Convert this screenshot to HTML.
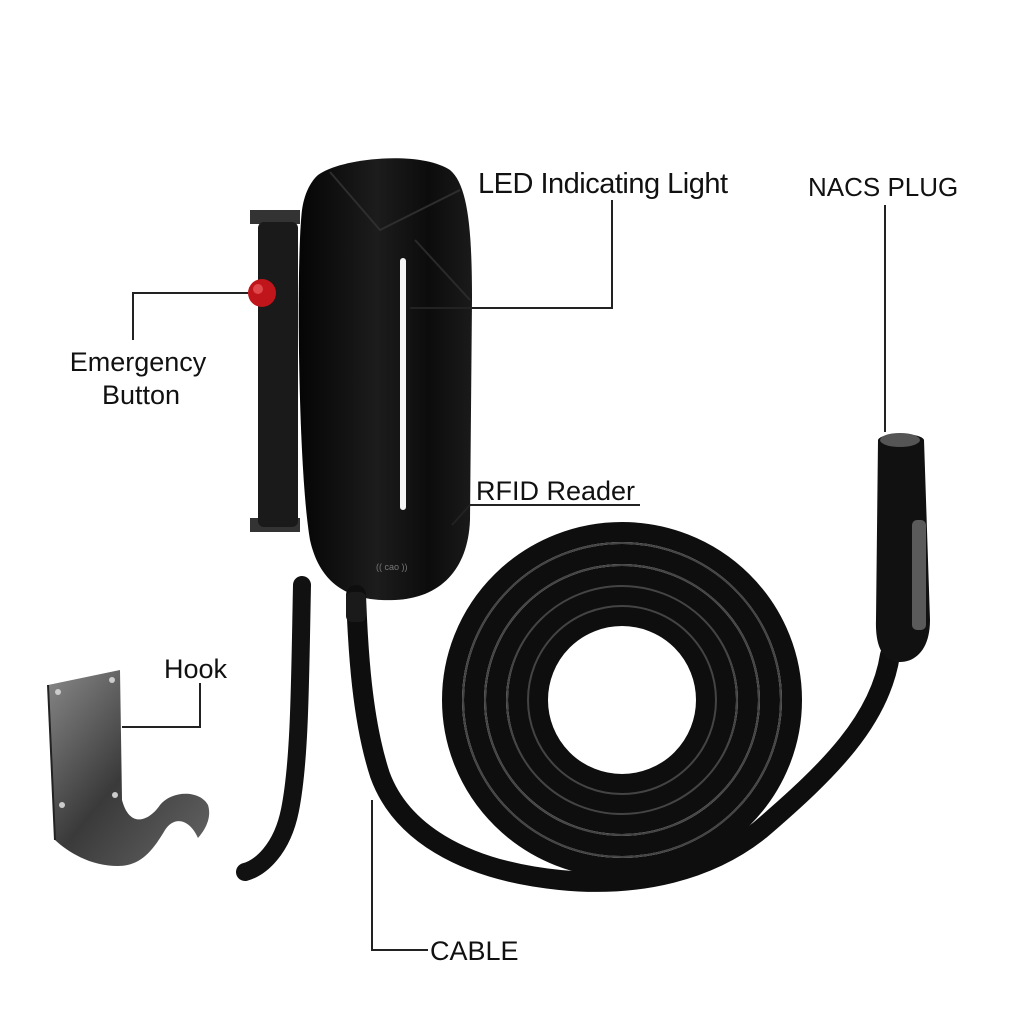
<!DOCTYPE html>
<html><head><meta charset="utf-8"><style>
html,body{margin:0;padding:0;background:#fff;}
svg{display:block}
text{font-family:"Liberation Sans","DejaVu Sans",sans-serif;fill:#111;}
</style></head><body>
<svg width="1024" height="1024" viewBox="0 0 1024 1024" xmlns="http://www.w3.org/2000/svg">
<defs>
<linearGradient id="body" x1="0" y1="0" x2="1" y2="0">
<stop offset="0" stop-color="#050505"/><stop offset="0.45" stop-color="#1c1c1c"/><stop offset="0.75" stop-color="#0c0c0c"/><stop offset="1" stop-color="#1a1a1a"/>
</linearGradient>
<linearGradient id="hook" x1="0" y1="0" x2="1" y2="1">
<stop offset="0" stop-color="#888"/><stop offset="0.5" stop-color="#3a3a3a"/><stop offset="1" stop-color="#666"/>
</linearGradient>
</defs>
<rect width="1024" height="1024" fill="#fff"/>

<path d="M302 585 C300 680 300 760 290 810 C282 850 260 868 245 872" stroke="#111" stroke-width="18" fill="none" stroke-linecap="round"/>

<rect x="250" y="210" width="50" height="14" fill="#333"/>
<rect x="250" y="518" width="50" height="14" fill="#333"/>
<rect x="258" y="222" width="40" height="305" rx="6" fill="#1a1a1a"/>

<path d="M318 175 C340 158 420 150 450 170 C468 185 472 230 472 300 L470 520 C468 570 440 598 395 600 C350 602 320 585 310 540 C298 470 296 260 302 210 C304 195 310 182 318 175 Z" fill="url(#body)"/>
<path d="M330 172 L380 230 L460 190" stroke="#2e2e2e" stroke-width="2" fill="none"/>
<path d="M415 240 L470 300" stroke="#2a2a2a" stroke-width="2" fill="none"/>
<rect x="400" y="258" width="6" height="252" rx="3" fill="#f4f4f4"/>
<text x="376" y="570" font-size="9" style="fill:#777">((  cao  ))</text>
<circle cx="262" cy="293" r="14" fill="#c0151a"/>
<circle cx="258" cy="289" r="5" fill="#e0474a"/>

<g fill="none" stroke="#0e0e0e" stroke-width="20">
<ellipse cx="622" cy="700" rx="170" ry="168"/>
<ellipse cx="622" cy="700" rx="148" ry="146"/>
<ellipse cx="622" cy="700" rx="126" ry="124"/>
<ellipse cx="622" cy="700" rx="104" ry="104"/>
<ellipse cx="622" cy="700" rx="84" ry="84"/>
</g>
<g fill="none" stroke="#444" stroke-width="2">
<ellipse cx="622" cy="700" rx="159" ry="157"/>
<ellipse cx="622" cy="700" rx="137" ry="135"/>
<ellipse cx="622" cy="700" rx="115" ry="114"/>
<ellipse cx="622" cy="700" rx="94" ry="94"/>
</g>
<path d="M356 595 C358 650 362 720 380 775 C400 830 460 870 560 880 C640 888 710 870 760 830 C830 770 880 720 890 655" stroke="#0e0e0e" stroke-width="20" fill="none" stroke-linecap="round"/>
<rect x="346" y="592" width="20" height="30" rx="6" fill="#1a1a1a"/>

<path d="M878 440 C880 432 922 432 924 440 L930 620 C930 650 915 662 900 662 C885 662 875 650 876 620 Z" fill="#111"/>
<rect x="912" y="520" width="14" height="110" rx="5" fill="#5a5a5a"/>
<ellipse cx="900" cy="440" rx="20" ry="7" fill="#555"/>

<path d="M48 685 L120 670 L122 800 C130 830 150 820 160 805 C172 790 200 790 208 805 C212 818 205 830 198 838 C190 820 175 815 165 830 C152 852 140 866 118 866 C90 866 68 852 55 840 Z" fill="url(#hook)"/>
<path d="M48 685 L55 840" stroke="#222" stroke-width="2"/>
<circle cx="58" cy="692" r="3" fill="#ccc"/><circle cx="112" cy="680" r="3" fill="#ccc"/>
<circle cx="62" cy="805" r="3" fill="#ccc"/><circle cx="115" cy="795" r="3" fill="#ccc"/>

<g stroke="#222" stroke-width="2" fill="none">
<path d="M612 200 L612 308 L410 308"/>
<path d="M885 205 L885 432"/>
<path d="M133 340 L133 293 L248 293"/>
<path d="M640 505 L470 505 L452 525"/>
<path d="M200 683 L200 727 L122 727"/>
<path d="M372 800 L372 950 L428 950"/>
</g>

<text x="478" y="193" font-size="29" letter-spacing="-0.5">LED Indicating Light</text>
<text x="808" y="196" font-size="26">NACS PLUG</text>
<text x="138" y="371" font-size="27" text-anchor="middle">Emergency</text>
<text x="141" y="404" font-size="27" text-anchor="middle">Button</text>
<text x="476" y="500" font-size="27">RFID Reader</text>
<text x="164" y="678" font-size="27">Hook</text>
<text x="430" y="960" font-size="27">CABLE</text>
</svg>
</body></html>
